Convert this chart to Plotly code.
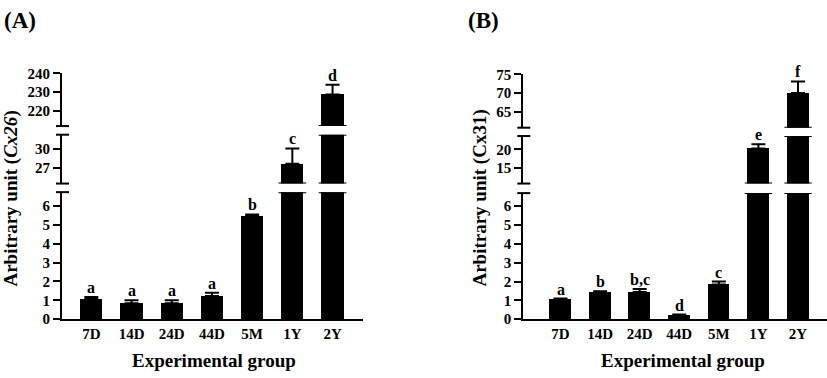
import plotly.graph_objects as go

# ---------------- data ----------------
groups = ["7D", "14D", "24D", "44D", "5M", "1Y", "2Y"]

cx26_mean = [1.07, 0.85, 0.85, 1.23, 5.47, 27.7, 228.8]
cx26_sem = [0.11, 0.15, 0.15, 0.17, 0.08, 2.35, 5.2]
cx26_letters = ["a", "a", "a", "a", "b", "c", "d"]

cx31_mean = [1.05, 1.44, 1.44, 0.22, 1.84, 20.25, 70.0]
cx31_sem = [0.05, 0.05, 0.16, 0.03, 0.16, 1.15, 3.1]
cx31_letters = ["a", "b", "b,c", "d", "c", "e", "f"]

# segment ranges of the broken y axes (bottom, middle, top)
cx26_ranges = [[0, 6.73], [24.64, 32.17], [212, 240]]
cx26_ticks = [[0, 1, 2, 3, 4, 5, 6], [27, 30], [220, 230, 240]]
cx31_ranges = [[0, 6.69], [10.93, 23.56], [60.7, 75]]
cx31_ticks = [[0, 1, 2, 3, 4, 5, 6], [15, 20], [65, 70, 75]]

W, H = 827, 378
FONT = "Liberation Serif"
BAR_W = 0.55

def py(p):  # pixel y -> paper
    return (H - p) / H

panels = [
    dict(mean=cx26_mean, sem=cx26_sem, letters=cx26_letters,
         ranges=cx26_ranges, ticks=cx26_ticks,
         xdom=[62 / W, 362.7 / W], xrange=[-0.73, 6.75],
         ydoms=[[py(325), py(192.3)], [py(183.3), py(132.3)], [py(123.3), py(68.3)]],
         ytitle="Arbitrary unit (<i>Cx26</i>)", ytx=11, label="(A)", labx=20,
         xtitle_x=214),
    dict(mean=cx31_mean, sem=cx31_sem, letters=cx31_letters,
         ranges=cx31_ranges, ticks=cx31_ticks,
         xdom=[523.3 / W, 826.5 / W], xrange=[-0.94, 6.72],
         ydoms=[[py(325), py(193.3)], [py(183.3), py(133.7)], [py(125), py(69.3)]],
         ytitle="Arbitrary unit (Cx31)", ytx=480, label="(B)", labx=483,
         xtitle_x=683),
]

fig = go.Figure()
layout = dict(width=W, height=H, margin=dict(l=0, r=0, t=0, b=0),
              autosize=False, showlegend=False, plot_bgcolor="white",
              paper_bgcolor="white", bargap=0)
shapes = []
annotations = []
xidx = list(range(len(groups)))

for p_i, P in enumerate(panels):
    xname = "x" if p_i == 0 else "x2"
    xkey = "xaxis" if p_i == 0 else "xaxis2"
    ynums = [p_i * 3 + k + 1 for k in range(3)]
    ynames = ["y" if n == 1 else f"y{n}" for n in ynums]
    ykeys = ["yaxis" if n == 1 else f"yaxis{n}" for n in ynums]
    axis_px = (P["xdom"][1] - P["xdom"][0]) * W

    layout[xkey] = dict(domain=P["xdom"], range=P["xrange"], anchor=ynames[0],
                        tickmode="array", tickvals=xidx, ticktext=groups,
                        showline=True, linewidth=2, linecolor="black",
                        ticks="", showgrid=False, zeroline=False,
                        tickfont=dict(family=FONT, size=15, color="black", weight="bold"))
    tops = [m + s for m, s in zip(P["mean"], P["sem"])]

    for k in range(3):
        lo, hi = P["ranges"][k]
        layout[ykeys[k]] = dict(domain=P["ydoms"][k], range=[lo, hi], anchor=xname,
                                tickmode="array", tickvals=P["ticks"][k],
                                showline=True, linewidth=2, linecolor="black",
                                ticks="outside", ticklen=7, tickwidth=2, tickcolor="black",
                                showgrid=False, zeroline=False,
                                tickfont=dict(family=FONT, size=15, color="black", weight="bold"))
        fig.add_trace(go.Bar(x=xidx, y=P["mean"], width=BAR_W, xaxis=xname, yaxis=ynames[k],
                             marker=dict(color="black", line=dict(width=0)),
                             hoverinfo="skip"))
        sel = [i for i in xidx if lo <= tops[i] <= hi]
        if sel:
            fig.add_trace(go.Scatter(
                x=[xidx[i] for i in sel], y=[P["mean"][i] for i in sel],
                mode="markers", marker=dict(size=1, opacity=0),
                error_y=dict(type="data", symmetric=False,
                             array=[P["sem"][i] for i in sel],
                             arrayminus=[0] * len(sel),
                             color="black", thickness=2, width=7),
                xaxis=xname, yaxis=ynames[k], hoverinfo="skip"))
            for i in sel:
                annotations.append(dict(x=xidx[i], y=tops[i], xref=xname, yref=ynames[k],
                                        text=P["letters"][i], showarrow=False,
                                        yanchor="bottom", yshift=-1,
                                        font=dict(family=FONT, size=16, color="black", weight="bold")))
        edges = []
        if k < 2:
            edges.append(1)
        if k > 0:
            edges.append(0)
        for e in edges:
            shapes.append(dict(type="line", xref=f"{xname} domain", yref=f"{ynames[k]} domain",
                               x0=-6 / axis_px, x1=7 / axis_px, y0=e, y1=e,
                               line=dict(color="black", width=2)))
            yv = hi if e == 1 else lo
            for i in xidx:
                if P["mean"][i] > yv:
                    shapes.append(dict(type="line", xref=xname, yref=ynames[k],
                                       x0=i - BAR_W / 2 - 0.07, x1=i + BAR_W / 2 + 0.07,
                                       y0=yv, y1=yv, line=dict(color="black", width=2)))

    annotations.append(dict(x=P["ytx"] / W, y=py(199), xref="paper", yref="paper",
                            text=P["ytitle"], textangle=-90, showarrow=False,
                            xanchor="center", yanchor="middle",
                            font=dict(family=FONT, size=19, color="black", weight="bold")))
    annotations.append(dict(x=P["xtitle_x"] / W, y=py(368), xref="paper", yref="paper",
                            text="Experimental group", showarrow=False,
                            xanchor="center", yanchor="middle",
                            font=dict(family=FONT, size=19, color="black", weight="bold")))
    annotations.append(dict(x=P["labx"] / W, y=py(13), xref="paper", yref="paper",
                            text=P["label"], showarrow=False,
                            xanchor="center", yanchor="middle",
                            font=dict(family=FONT, size=23, color="black", weight="bold")))

layout["shapes"] = shapes
layout["annotations"] = annotations
fig.update_layout(**layout)
fig.write_html("out.html", config={"displayModeBar": False},
               post_script="document.body.style.margin='0';")
